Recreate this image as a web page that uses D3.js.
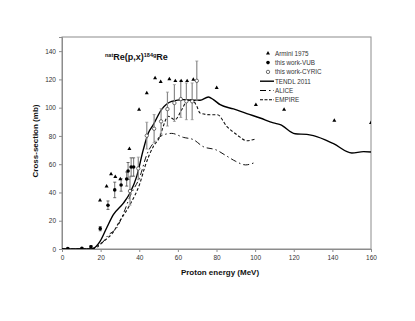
<!DOCTYPE html>
<html>
<head>
<meta charset="utf-8">
<script src="https://cdn.jsdelivr.net/npm/d3@7"></script>
<style>
body{margin:0;background:#fff;}
text{font-family:"Liberation Sans",Arial,sans-serif;}
</style>
</head>
<body>
<div id="chart"></div>
<script>
// data
var armini = [[19.7,34.4],[23.1,44.3],[25.4,53],[27.6,51],[30.2,49.5],[34.9,70.8],[39.9,98.6],[43.9,110.4],
  [48.2,121],[51.1,118.2],[55.6,120.3],[58.7,118.9],[61.7,118.9],[64.8,118.9],[68,119.8],[80.1,114],
  [100.4,102],[115,98.6],[141,90.8],[160,89.2]];
var vubX = [3,10.3,15,19.8,23.8,27.3,30.6,33.5,34.2,35.8,37.1];
var vubY = [0.4,0.5,1.6,14.4,31,41.8,45.3,49.5,55.2,58,58];
var vubErr = [0.3,0.3,0.8,1.5,3,5.5,4.4,5,6,6.5,6.5];
var cyricX = [35.2,39.5,43.9,47.7,51.3,54.6,58.2,61.5,64.4,67.4,69.8];
var cyricY = [41,57,80.2,85.1,90.3,99,103.3,106.1,104.5,104.5,119];
var cyricErr = [10,8,9.5,10,9,12,13,13,13,13,14];
var tendl = [[0,0],[10,0],[15,0],[16.2,0.4],[19.7,5.4],[23.1,14.9],[26.6,24.3],[31.8,32.5],[35.2,39.6],
  [38.7,51.4],[42.1,70.3],[44.7,82],[47.3,88],[51.5,98.6],[56.8,104.5],[62.8,105.7],[68,105.2],[71.5,105.2],
  [75.8,107.6],[78.4,105.7],[81.9,102.1],[88.8,99.1],[95.7,95.8],[102.6,92.7],[109.5,89.2],[113,88],
  [120.7,81.5],[126.8,81.1],[130.2,80.2],[140.6,74.5],[150.1,67.9],[156.1,68.9],[160,68.6]];
var alice = [[0,0],[15,0],[17,0.3],[20,3],[24,9.9],[28.3,14.9],[32.6,27.8],[35.2,37.2],[40.4,51.4],
  [43.9,66.7],[49,77.4],[53,81],[56.8,81.8],[62.8,79],[68,77.4],[73,72.5],[80,70],[85,66],[90,62],
  [95,59.5],[99.5,61]];
var empire = [[0,0],[15,0],[18,1.8],[22,6],[26,11],[30,20],[35.2,31.4],[40.4,46.7],[43,58.5],[47.3,72.6],
  [50.8,80],[52,85],[55,93.9],[58.5,91.5],[62,98.6],[64.6,104.5],[67.2,105.7],[69.8,101],[71.5,96.2],
  [76.7,95],[80.5,95],[85.3,86.8],[90.5,80.9],[95.7,76.6],[100,77.8]];
var xTicks = [0,20,40,60,80,100,120,140,160];
var yTicks = [0,20,40,60,80,100,120,140];

var W = 415, H = 321;
var m = {left:62, right:44, top:37, bottom:72};
var svg = d3.select("#chart").append("svg").attr("width",W).attr("height",H);
var x = d3.scaleLinear().domain([0,160]).range([m.left, W-m.right]);
var y = d3.scaleLinear().domain([0,150]).range([H-m.bottom, m.top]);

var grey = "#8c8c8c";
// frame
svg.append("rect").attr("x",x(0)).attr("y",y(150)).attr("width",x(160)-x(0)).attr("height",y(0)-y(150))
  .attr("fill","none").attr("stroke",grey).attr("stroke-width",1);

var xa = svg.append("g").attr("transform","translate(0,"+y(0)+")")
  .call(d3.axisBottom(x).tickValues(xTicks).tickSize(3).tickPadding(3));
var ya = svg.append("g").attr("transform","translate("+x(0)+",0)")
  .call(d3.axisLeft(y).tickValues(yTicks).tickSize(3).tickPadding(3));
[xa,ya].forEach(function(a){
  a.select(".domain").attr("stroke",grey);
  a.selectAll("line").attr("stroke",grey);
  a.selectAll("text").attr("font-size",6.5).attr("fill","#333").attr("font-family","Liberation Sans, Arial, sans-serif");
});

svg.append("text").attr("x",220).attr("y",275).attr("text-anchor","middle")
  .attr("font-size",8).attr("font-weight","bold").attr("fill","#111").text("Proton energy (MeV)");
svg.append("text").attr("transform","translate(38,141) rotate(-90)").attr("text-anchor","middle")
  .attr("font-size",8).attr("font-weight","bold").attr("fill","#111").text("Cross-section (mb)");

// reaction label
var lab = svg.append("text").attr("x",105).attr("y",60).attr("fill","#111").attr("font-weight","bold");
lab.append("tspan").attr("font-size",5.5).attr("dy",-3).text("nat");
lab.append("tspan").attr("font-size",9).attr("dy",3).text("Re(p,x)");
lab.append("tspan").attr("font-size",5.5).attr("dy",-3).text("184g");
lab.append("tspan").attr("font-size",9).attr("dy",3).text("Re");

var line = d3.line().x(function(d){return x(d[0]);}).y(function(d){return y(d[1]);}).curve(d3.curveMonotoneX);

var clip = svg.append("defs").append("clipPath").attr("id","clip").append("rect")
  .attr("x",x(0)).attr("y",y(150)).attr("width",x(160)-x(0)).attr("height",y(0)-y(150));
var g = svg.append("g").attr("clip-path","url(#clip)");

g.append("path").attr("d",line(alice)).attr("fill","none").attr("stroke","#111").attr("stroke-width",1)
  .attr("stroke-dasharray","6,3,1.5,3");
g.append("path").attr("d",line(empire)).attr("fill","none").attr("stroke","#111").attr("stroke-width",1.1)
  .attr("stroke-dasharray","3,2");
g.append("path").attr("d",line(tendl)).attr("fill","none").attr("stroke","#000").attr("stroke-width",1.4);

// error bars
function bars(xs, ys, es, col, w){
  xs.forEach(function(v,i){
    var gx = x(v), y1 = y(ys[i]+es[i]), y2 = y(ys[i]-es[i]);
    g.append("line").attr("x1",gx).attr("x2",gx).attr("y1",y1).attr("y2",y2).attr("stroke",col).attr("stroke-width",w);
    [y1,y2].forEach(function(yy){
      g.append("line").attr("x1",gx-1.5).attr("x2",gx+1.5).attr("y1",yy).attr("y2",yy).attr("stroke",col).attr("stroke-width",0.7);
    });
  });
}
bars(cyricX, cyricY, cyricErr, "#8a8a8a", 1.2);
bars(vubX, vubY, vubErr, "#333", 0.7);

var tri = d3.symbol().type(d3.symbolTriangle).size(7);
g.selectAll(".arm").data(armini).enter().append("path").attr("class","arm")
  .attr("transform",function(d){return "translate("+x(d[0])+","+y(d[1])+")";})
  .attr("d",tri).attr("fill","#000");
g.selectAll(".vub").data(vubX).enter().append("circle")
  .attr("cx",function(d){return x(d);}).attr("cy",function(d,i){return y(vubY[i]);})
  .attr("r",1.8).attr("fill","#000");
g.selectAll(".cyr").data(cyricX).enter().append("circle")
  .attr("cx",function(d){return x(d);}).attr("cy",function(d,i){return y(cyricY[i]);})
  .attr("r",1.7).attr("fill","#fff").attr("stroke","#333").attr("stroke-width",0.7);

// legend
var lx = 268, ly = 53.3, dy = 9.3;
var leg = svg.append("g");
var names = ["Armini 1975","this work-VUB","this work-CYRIC","TENDL 2011","ALICE","EMPIRE"];
names.forEach(function(n,i){
  leg.append("text").attr("x",275).attr("y",ly+i*dy+2.3).attr("font-size",6.3).attr("fill","#333").text(n);
});
leg.append("path").attr("transform","translate("+lx+","+ly+")").attr("d",tri).attr("fill","#000");
leg.append("circle").attr("cx",lx).attr("cy",ly+dy).attr("r",1.8).attr("fill","#000");
leg.append("circle").attr("cx",lx).attr("cy",ly+2*dy).attr("r",1.7).attr("fill","#fff").attr("stroke","#333").attr("stroke-width",0.7);
leg.append("line").attr("x1",260).attr("x2",274).attr("y1",ly+3*dy).attr("y2",ly+3*dy).attr("stroke","#000").attr("stroke-width",1.4);
leg.append("line").attr("x1",260).attr("x2",274).attr("y1",ly+4*dy).attr("y2",ly+4*dy).attr("stroke","#000").attr("stroke-width",1).attr("stroke-dasharray","6,3,1.5,3");
leg.append("line").attr("x1",260).attr("x2",274).attr("y1",ly+5*dy).attr("y2",ly+5*dy).attr("stroke","#000").attr("stroke-width",1.1).attr("stroke-dasharray","3,1.5");
</script>
</body>
</html>
